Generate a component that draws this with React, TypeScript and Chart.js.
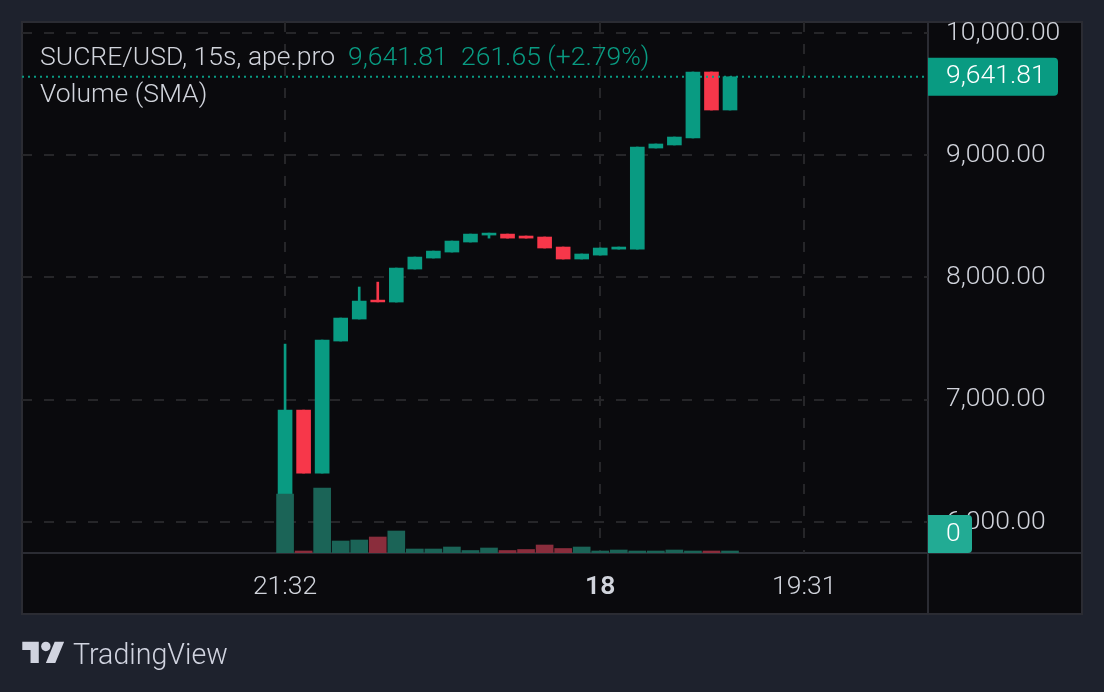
import { useEffect, useRef } from 'react'
import { Chart, registerables } from 'chart.js'

Chart.register(...registerables)

const BG = '#1e222d'
const PANE = '#0a0a0d'
const LINE = '#2b2c33'
const GRID = '#262629'
const TEXT = '#d1d4dc'
const UP = '#099b82'
const DOWN = '#f7374a'
const VOL_UP = '#1b6457'
const VOL_DOWN = '#8a2d3c'

// index of each 15s candle on the x axis
const candleIndex = [0, 1, 2, 3, 4, 5, 6, 7, 8, 9, 10, 11, 12, 13, 14, 15, 16, 17, 18, 19, 20, 21, 22, 23, 24]
const opens = [5900, 6915, 6400, 7480, 7660, 7815, 7799, 8069, 8159, 8208, 8290, 8347, 8355, 8339, 8331, 8249, 8151, 8183, 8232, 8232, 9059, 9084, 9141, 9681, 9370]
const closes = [6915, 6400, 7488, 7668, 7807, 7800, 8077, 8167, 8216, 8298, 8355, 8363, 8322, 8322, 8241, 8151, 8192, 8241, 8249, 9067, 9092, 9149, 9681, 9370, 9642]
const highs = [7455, 6915, 7488, 7668, 7922, 7962, 8077, 8167, 8216, 8298, 8355, 8363, 8355, 8339, 8331, 8249, 8192, 8241, 8249, 9067, 9092, 9149, 9681, 9681, 9642]
const lows = [5900, 6400, 6400, 7480, 7660, 7800, 7799, 8069, 8159, 8208, 8290, 8322, 8322, 8322, 8241, 8151, 8151, 8183, 8232, 8232, 9059, 9084, 9141, 9370, 9370]
const volumes = [590, 20, 650, 120, 130, 160, 220, 40, 40, 60, 25, 50, 25, 35, 80, 45, 60, 20, 30, 20, 20, 30, 20, 20, 20]

const priceTicks = [6000, 7000, 8000, 9000, 10000]
const timeTicks = [0, 17, 28]
const timeLabels = ['21:32', '18', '19:31']
const lastPrice = 9641.81

const isUp = (i: number) => closes[i] >= opens[i]

const paneFrame = {
  id: 'paneFrame',
  beforeDraw(chart: Chart) {
    const { ctx, chartArea: a } = chart
    ctx.save()
    ctx.fillStyle = PANE
    ctx.fillRect(22, 22, 1060, 592)
    ctx.strokeStyle = LINE
    ctx.lineWidth = 2
    ctx.strokeRect(22, 22, 1060, 592)
    ctx.beginPath()
    ctx.moveTo(22, a.bottom)
    ctx.lineTo(1082, a.bottom)
    ctx.moveTo(a.right, 22)
    ctx.lineTo(a.right, 614)
    ctx.stroke()
    ctx.restore()
  },
}

const priceTags = {
  id: 'priceTags',
  afterDraw(chart: Chart) {
    const { ctx, chartArea: a } = chart
    const y = chart.scales.y.getPixelForValue(lastPrice)
    ctx.save()
    ctx.strokeStyle = UP
    ctx.lineWidth = 2
    ctx.setLineDash([2, 4])
    ctx.beginPath()
    ctx.moveTo(a.left, y)
    ctx.lineTo(a.right, y)
    ctx.stroke()
    ctx.setLineDash([])

    ctx.fillStyle = UP
    ctx.beginPath()
    ctx.roundRect(a.right, y - 19, 130, 38, [0, 4, 4, 0])
    ctx.fill()
    ctx.fillStyle = '#22ab94'
    ctx.beginPath()
    ctx.roundRect(a.right, a.bottom - 38, 44, 38, [0, 4, 4, 0])
    ctx.fill()

    ctx.fillStyle = '#ffffff'
    ctx.font = '300 26.5px Roboto'
    ctx.textBaseline = 'middle'
    ctx.textAlign = 'left'
    ctx.fillText('9,641.81', a.right + 18, y)
    ctx.fillText('0', a.right + 18, a.bottom - 19)
    ctx.restore()
  },
}

export default function App() {
  const canvasRef = useRef<HTMLCanvasElement>(null)

  useEffect(() => {
    if (!canvasRef.current) return
    const chart = new Chart(canvasRef.current, {
      type: 'bar',
      data: {
        datasets: [
          {
            label: 'Volume',
            yAxisID: 'vol',
            order: 0,
            grouped: false,
            barThickness: 17,
            data: candleIndex.map((x, i) => ({ x, y: volumes[i] })),
            backgroundColor: candleIndex.map((_, i) => (isUp(i) ? VOL_UP : VOL_DOWN)),
          },
          {
            label: 'Body',
            yAxisID: 'y',
            order: 1,
            grouped: false,
            barThickness: 14,
            data: candleIndex.map((x, i) => ({ x, y: [opens[i], closes[i]] })),
            backgroundColor: candleIndex.map((_, i) => (isUp(i) ? UP : DOWN)),
          },
          {
            label: 'Wick',
            yAxisID: 'y',
            order: 2,
            grouped: false,
            barThickness: 2,
            data: candleIndex.map((x, i) => ({ x, y: [lows[i], highs[i]] })),
            backgroundColor: candleIndex.map((_, i) => (isUp(i) ? UP : DOWN)),
          },
        ] as any,
      },
      options: {
        animation: false,
        responsive: false,
        parsing: { xAxisKey: 'x', yAxisKey: 'y' },
        layout: { autoPadding: false, padding: { left: 22, top: 22, right: 22, bottom: 78 } },
        plugins: { legend: { display: false }, tooltip: { enabled: false } },
        scales: {
          x: {
            type: 'linear',
            offset: false,
            min: -14.19,
            max: 34.68,
            grid: { offset: false, color: GRID, lineWidth: 2, drawTicks: false },
            border: { display: false, dash: [10, 12] },
            afterBuildTicks: (axis) => {
              axis.ticks = timeTicks.map((value) => ({ value }))
            },
            afterFit: (axis) => {
              axis.height = 61
              axis.paddingLeft = 0
              axis.paddingRight = 0
            },
            ticks: {
              autoSkip: false,
              maxRotation: 0,
              padding: 18,
              color: TEXT,
              callback: (v) => timeLabels[timeTicks.indexOf(Number(v))],
              font: (ctx) => ({
                family: 'Roboto',
                size: 26.5,
                weight: ctx.tick && ctx.tick.value === 17 ? '600' : '300',
              }),
            },
          },
          y: {
            type: 'linear',
            position: 'right',
            min: 5746,
            max: 10090,
            grid: { color: GRID, lineWidth: 2, drawTicks: false },
            border: { display: false, dash: [10, 12] },
            afterBuildTicks: (axis) => {
              axis.ticks = priceTicks.map((value) => ({ value }))
            },
            afterFit: (axis) => {
              axis.width = 154
              axis.paddingTop = 0
              axis.paddingBottom = 0
            },
            ticks: {
              padding: 18,
              color: TEXT,
              font: { family: 'Roboto', size: 26.5, weight: '300' },
              callback: (v) => Number(v).toLocaleString('en-US', { minimumFractionDigits: 2 }),
            },
          },
          vol: {
            type: 'linear',
            display: false,
            min: 0,
            max: 5310,
            afterFit: (axis) => {
              axis.paddingTop = 0
              axis.paddingBottom = 0
            },
          },
        },
      },
      plugins: [paneFrame, priceTags],
    })
    return () => chart.destroy()
  }, [])

  const font = { fontFamily: 'Roboto', fontWeight: 300, fontSize: 26.5, lineHeight: '30px', whiteSpace: 'pre' as const }

  return (
    <div style={{ position: 'absolute', left: 0, top: 0, width: 1104, height: 692, background: BG, overflow: 'hidden' }}>
      <canvas ref={canvasRef} width={1104} height={692} style={{ display: 'block', width: 1104, height: 692 }} />
      <div style={{ ...font, position: 'absolute', left: 40, top: 41, color: TEXT }}>SUCRE/USD, 15s, ape.pro</div>
      <div style={{ ...font, position: 'absolute', left: 348, top: 41, color: UP }}>9,641.81</div>
      <div style={{ ...font, position: 'absolute', left: 461, top: 41, color: UP }}>261.65 (+2.79%)</div>
      <div style={{ ...font, position: 'absolute', left: 40, top: 78, color: TEXT }}>Volume (SMA)</div>
      <svg style={{ position: 'absolute', left: 22, top: 637 }} width={43} height={33} viewBox="0 0 36 28" fill="#d1d4e0">
        <path d="M14 22H7V11H0V4h14v18zM28 22h-8l7.5-18h8L28 22z" />
        <circle cx={20} cy={8} r={4} />
      </svg>
      <div style={{ ...font, position: 'absolute', left: 73, top: 639, fontSize: 28.6, color: '#d1d4e0' }}>TradingView</div>
    </div>
  )
}
